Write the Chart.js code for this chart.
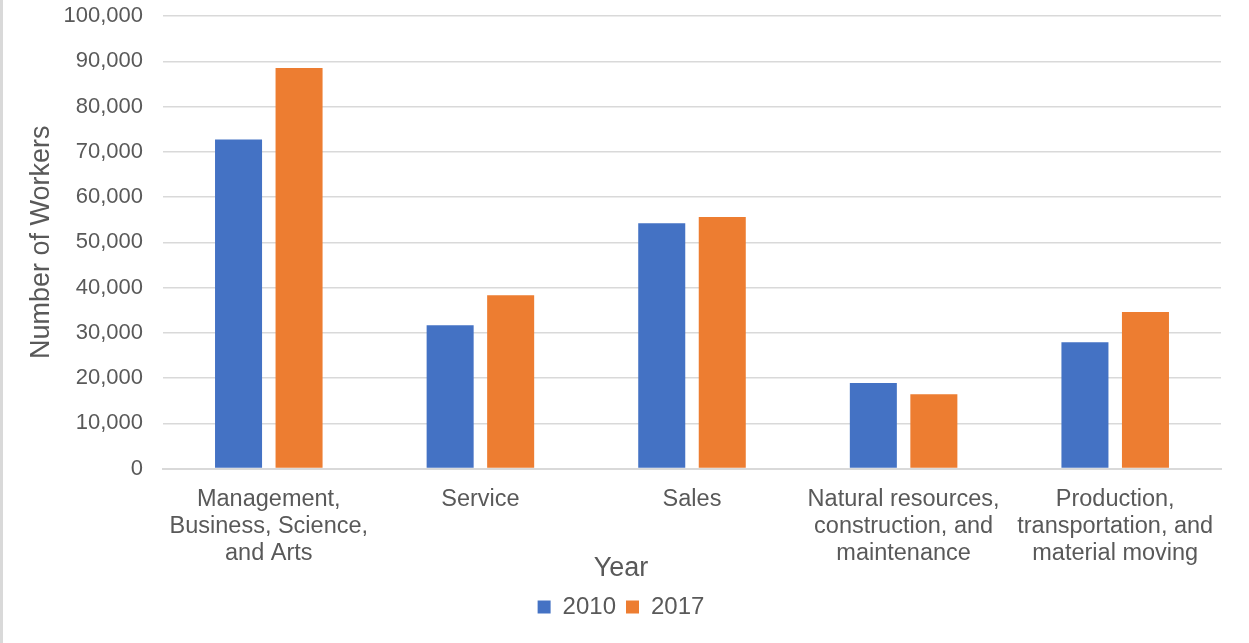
<!DOCTYPE html>
<html>
<head>
<meta charset="utf-8">
<script src="https://cdn.jsdelivr.net/npm/chart.js@4.4.1/dist/chart.umd.min.js"></script>
<style>
  html, body { margin: 0; padding: 0; background: #fff; }
  body { width: 1249px; height: 643px; overflow: hidden; box-sizing: border-box; border-left: 3px solid #d9d9d9; }
  #wrap { width: 1246px; height: 643px; position: relative; }
</style>
</head>
<body>
<div id="wrap"><canvas id="workers"></canvas></div>
<script>
// --- Data ---
const categories = [
    ['Management,', 'Business, Science,', 'and Arts'],
    'Service',
    'Sales',
    ['Natural resources,', 'construction, and', 'maintenance'],
    ['Production,', 'transportation, and', 'material moving']
];
const years = ['2010', '2017'];
const workers2010 = [72700, 31700, 54200, 18900, 27900];
const workers2017 = [88500, 38300, 55600, 16400, 34600];
const yTicks = [0, 10000, 20000, 30000, 40000, 50000, 60000, 70000, 80000, 90000, 100000];

const textGray = '#595959';
const gridGray = '#d9d9d9';
const fontFam = 'Liberation Sans, Arial, sans-serif';

new Chart(document.getElementById('workers'), {
    type: 'bar',
    data: {
        labels: categories,
        datasets: [
            { label: years[0], data: workers2010, backgroundColor: '#4472C4', categoryPercentage: 0.572, barPercentage: 0.777 },
            { label: years[1], data: workers2017, backgroundColor: '#ED7D31', categoryPercentage: 0.572, barPercentage: 0.777 }
        ]
    },
    options: {
        responsive: true,
        maintainAspectRatio: false,
        animation: false,
        layout: { padding: { top: 16, right: 28, left: 18, bottom: 14 } },
        scales: {
            y: {
                min: 0,
                max: 100000,
                afterBuildTicks: axis => { axis.ticks = yTicks.map(v => ({ value: v })); },
                afterFit: axis => {
                    axis.width = 142;
                    axis.paddingTop = 0;
                    axis.paddingBottom = 0;
                },
                border: { display: false },
                grid: { color: gridGray, lineWidth: 1.5, drawTicks: false },
                ticks: {
                    color: textGray,
                    font: { family: fontFam, size: 22 },
                    padding: 20,
                    callback: v => v.toLocaleString('en-US')
                },
                title: {
                    display: true,
                    text: 'Number of Workers',
                    color: textGray,
                    font: { family: fontFam, size: 27 },
                    padding: { top: 4, bottom: 6 }
                }
            },
            x: {
                // tall enough that the 3-line labels are not clipped
                afterFit: axis => {
                    axis.height = 101;
                    axis.paddingLeft = 0;
                    axis.paddingRight = 0;
                },
                border: { color: gridGray, width: 2 },
                grid: { display: false },
                ticks: {
                    color: textGray,
                    font: { family: fontFam, size: 23.5, lineHeight: 1.15 },
                    autoSkip: false,
                    maxRotation: 0,
                    padding: 9
                }
            }
        },
        plugins: {
            // "Year" sits centred on the whole chart, above the legend
            title: {
                display: true,
                position: 'bottom',
                weight: 500,
                text: 'Year',
                color: textGray,
                font: { family: fontFam, size: 27, weight: 'normal' },
                padding: { top: -17, bottom: 0 }
            },
            legend: {
                position: 'bottom',
                weight: 1000,
                labels: {
                    color: textGray,
                    font: { family: fontFam, size: 24 },
                    boxWidth: 13,
                    boxHeight: 13,
                    padding: 10
                }
            },
            tooltip: { enabled: false }
        }
    }
});
</script>
</body>
</html>
